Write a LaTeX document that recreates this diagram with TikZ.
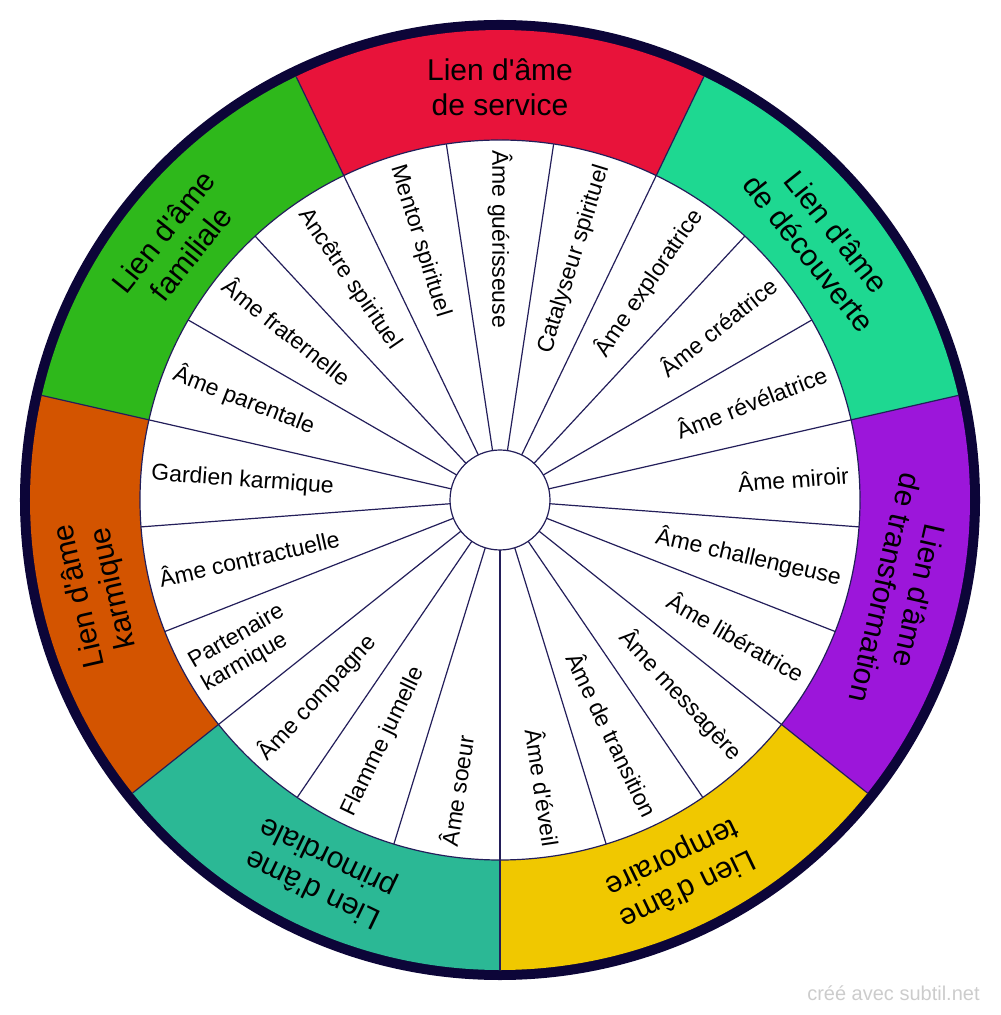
\documentclass[tikz,border=0pt]{standalone}
\usepackage{fontspec}
\setmainfont{Liberation Sans}[Ligatures=TeXOff]
\definecolor{ringcol}{RGB}{12,5,56}
\definecolor{linecol}{RGB}{35,30,90}
\definecolor{service}{RGB}{232,19,58}
\definecolor{decouverte}{RGB}{30,216,145}
\definecolor{transfo}{RGB}{156,22,218}
\definecolor{temporaire}{RGB}{240,200,0}
\definecolor{primordiale}{RGB}{43,184,149}
\definecolor{karmique}{RGB}{211,84,0}
\definecolor{familiale}{RGB}{46,184,27}
\tikzset{
  seg/.style={inner sep=0pt, align=left, font=\fontsize{11.5}{13.2}\selectfont},
  bond/.style={inner sep=0pt, align=center, font=\fontsize{15}{17.5}\selectfont},
  spoke/.style={draw=linecol, line width=0.6pt}
}
\begin{document}
\begin{tikzpicture}[x=0.5pt,y=0.5pt]
      \useasboundingbox (-500,-515) rectangle (500,500);
      \fill[ringcol] (0,0) circle (480);
      \fill[service] (0,0) -- (64.286:470) arc (64.286:115.714:470) -- cycle;
      \fill[familiale] (0,0) -- (115.714:470) arc (115.714:167.143:470) -- cycle;
      \fill[karmique] (0,0) -- (167.143:470) arc (167.143:218.571:470) -- cycle;
      \fill[primordiale] (0,0) -- (218.571:470) arc (218.571:270:470) -- cycle;
      \fill[temporaire] (0,0) -- (270:470) arc (270:321.429:470) -- cycle;
      \fill[transfo] (0,0) -- (321.429:470) arc (321.429:372.857:470) -- cycle;
      \fill[decouverte] (0,0) -- (12.857:470) arc (12.857:64.286:470) -- cycle;
      \filldraw[fill=white, spoke] (0,0) circle (360);
      \foreach \a in {0,1,...,20}
        \draw[spoke] (270+\a*17.1429:50) -- (270+\a*17.1429:360);
      \foreach \a in {0,1,...,6}
        \draw[spoke] (270+\a*51.4286:360) -- (270+\a*51.4286:470);
      \filldraw[fill=white, spoke] (0,0) circle (50);
      \begin{scope}[every node/.style={seg, anchor=east}]
        \node[rotate=72.857] (s1) at (72.857:350) {Catalyseur spirituel};
        \node[rotate=55.714] (s2) at (55.714:350) {Âme exploratrice};
        \node[rotate=38.571] (s3) at (38.571:350) {Âme créatrice};
        \node[rotate=21.429] (s4) at (21.429:350) {Âme révélatrice};
        \node[rotate=4.286] (s5) at (4.286:350) {Âme miroir};
        \node[rotate=-12.857] (s6) at (-12.857:350) {Âme challengeuse};
        \node[rotate=-30] (s7) at (-30:350) {Âme libératrice};
        \node[rotate=-47.143] (s8) at (-47.143:350) {Âme messagère};
        \node[rotate=-64.286] (s9) at (-64.286:350) {Âme de transition};
        \node[rotate=-81.429] (s10) at (-81.429:350) {Âme d'éveil};
      \end{scope}
      \begin{scope}[every node/.style={seg, anchor=west}]
        \node[rotate=81.429] (s11) at (261.429:350) {Âme soeur};
        \node[rotate=64.286] (s12) at (244.286:350) {Flamme jumelle};
        \node[rotate=47.143] (s13) at (227.143:350) {Âme compagne};
        \node[rotate=30] (s14) at (210:350) {Partenaire\\karmique};
        \node[rotate=12.857] (s15) at (192.857:350) {Âme contractuelle};
        \node[rotate=-4.286] (s16) at (175.714:350) {Gardien karmique};
        \node[rotate=-21.429] (s17) at (158.571:350) {Âme parentale};
        \node[rotate=-38.571] (s18) at (141.429:350) {Âme fraternelle};
        \node[rotate=-55.714] (s19) at (124.286:350) {Ancêtre spirituel};
        \node[rotate=-72.857] (s20) at (107.143:350) {Mentor spirituel};
        \node[rotate=-90] (s21) at (90:350) {Âme guérisseuse};
      \end{scope}
      \begin{scope}[every node/.style={bond}]
        \node (b1) at (90:413) {Lien d'âme\\de service};
        \node[rotate=-51.429] (b2) at (38.571:413) {Lien d'âme\\de découverte};
        \node[rotate=-102.857] (b3) at (-12.857:413) {Lien d'âme\\de transformation};
        \node[rotate=-154.286] (b4) at (-64.286:413) {Lien d'âme\\temporaire};
        \node[rotate=154.286] (b5) at (244.286:413) {Lien d'âme\\primordiale};
        \node[rotate=102.857] (b6) at (192.857:413) {Lien d'âme\\karmique};
        \node[rotate=51.429] (b7) at (141.429:413) {Lien d'âme\\familiale};
      \end{scope}
      \node[anchor=east, inner sep=0pt, text=black!20, font=\fontsize{10}{12}\selectfont] (credit) at (480,-493) {créé avec subtil.net};
    \end{tikzpicture}
\end{document}
